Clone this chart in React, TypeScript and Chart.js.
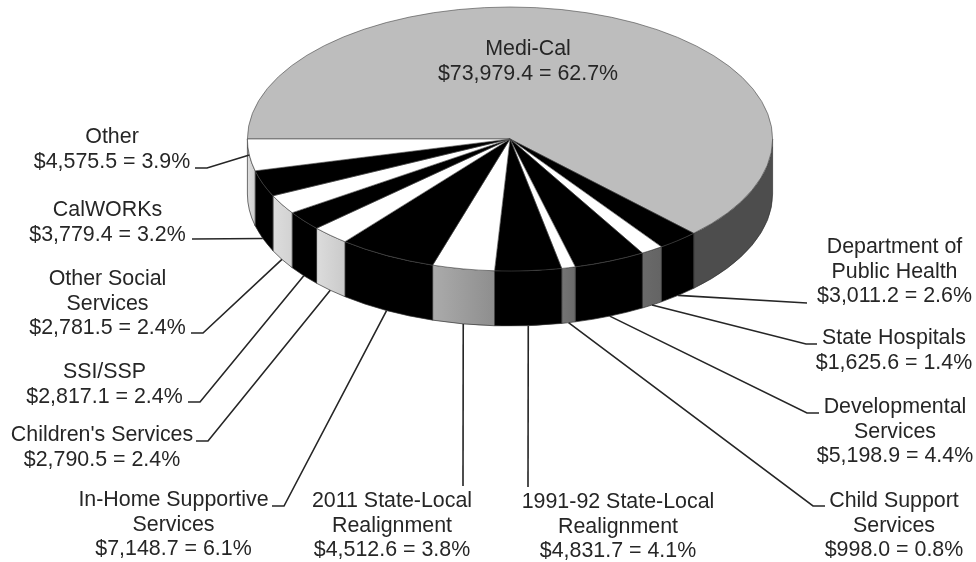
import React, { useEffect, useRef } from "react";
import { Chart, registerables } from "chart.js";

Chart.register(...registerables);

const categories = [
  "Medi-Cal", "Department of Public Health", "State Hospitals", "Developmental Services",
  "Child Support Services", "1991-92 State-Local Realignment", "2011 State-Local Realignment",
  "In-Home Supportive Services", "Children's Services", "SSI/SSP", "Other Social Services",
  "CalWORKs", "Other",
];
const amounts = [73979.4, 3011.2, 1625.6, 5198.9, 998.0, 4831.7, 4512.6, 7148.7, 2790.5, 2817.1, 2781.5, 3779.4, 4575.5];
const shares = [62.7, 2.6, 1.4, 4.4, 0.8, 4.1, 3.8, 6.1, 2.4, 2.4, 2.4, 3.2, 3.9];
const nameLines = [
  ["Medi-Cal"], ["Department of", "Public Health"], ["State Hospitals"], ["Developmental", "Services"],
  ["Child Support", "Services"], ["1991-92 State-Local", "Realignment"], ["2011 State-Local", "Realignment"],
  ["In-Home Supportive", "Services"], ["Children's Services"], ["SSI/SSP"], ["Other Social", "Services"],
  ["CalWORKs"], ["Other"],
];
const topColors = ["#bdbdbd", "#000000", "#ffffff", "#000000", "#ffffff", "#000000", "#ffffff", "#000000", "#ffffff", "#000000", "#ffffff", "#000000", "#ffffff"];
const sideFrom = ["#4d4d4d", "#000000", "#6a6a6a", "#000000", "#747474", "#000000", "#ababab", "#000000", "#dcdcdc", "#000000", "#dddddd", "#000000", "#dddddd"];
const sideTo = ["#4d4d4d", "#000000", "#646464", "#000000", "#6a6a6a", "#000000", "#8e8e8e", "#000000", "#cacaca", "#000000", "#d2d2d2", "#000000", "#cfcfcf"];

// Layout of the annotation text: centre x, first baseline
const labelX = [528, 894.5, 894, 895, 894, 618, 392, 173.5, 102, 104.5, 107.5, 107.5, 112];
const labelY = [55, 253, 344, 413, 507, 508, 507, 506, 441, 378, 285, 216, 143];
// Leader elbows: [elbow x, elbow y, end x, end y]
const leaders: (number[] | null)[] = [
  null,
  [807, 303, 807, 303],
  [806, 344, 817, 344],
  [807, 413, 819, 413],
  [813, 506, 825, 506],
  [528, 487, 528, 487],
  [463, 486, 463, 486],
  [284, 506, 272, 506],
  [208, 441, 196, 441],
  [200, 402, 188, 402],
  [203, 333, 191, 333],
  [192, 239, 192, 239],
  [207, 168, 195, 168],
];
const leaderOnTopFace = [false, false, false, false, false, false, false, false, false, false, false, false, true];

const CY = 139;
const RY = 132;
const DEPTH = 55;
const FONT = '21.4px "Liberation Sans", Arial, sans-serif';
const LINE = 24.5;

const money = (v: number) =>
  "$" + v.toLocaleString("en-US", { minimumFractionDigits: 1, maximumFractionDigits: 1 });

const pie3d = {
  id: "pie3d",
  beforeDatasetsDraw(chart: any) {
    const ctx = chart.ctx;
    const arcs = chart.getDatasetMeta(0).data;
    arcs.forEach((arc: any, i: number) => {
      const a0 = Math.max(arc.startAngle, 0);
      const a1 = Math.min(arc.endAngle, Math.PI);
      if (a1 <= a0) return;
      const rx = arc.outerRadius;
      const x0 = arc.x + rx * Math.cos(a0);
      const x1 = arc.x + rx * Math.cos(a1);
      const g = ctx.createLinearGradient(Math.min(x0, x1), 0, Math.max(x0, x1), 0);
      g.addColorStop(0, sideFrom[i]);
      g.addColorStop(1, sideTo[i]);
      ctx.save();
      ctx.beginPath();
      ctx.ellipse(arc.x, CY, rx, RY, 0, a0, a1, false);
      ctx.ellipse(arc.x, CY + DEPTH, rx, RY, 0, a1, a0, true);
      ctx.closePath();
      ctx.fillStyle = g;
      ctx.fill();
      ctx.lineWidth = 0.7;
      ctx.strokeStyle = "#333333";
      ctx.stroke();
      ctx.restore();
    });
    // Flatten the pie's top face onto the ellipse of the extruded rim
    const k = RY / arcs[0].outerRadius;
    ctx.save();
    ctx.translate(0, CY);
    ctx.scale(1, k);
    ctx.translate(0, -arcs[0].y);
  },
  afterDatasetsDraw(chart: any) {
    const ctx = chart.ctx;
    ctx.restore();
    const arcs = chart.getDatasetMeta(0).data;
    ctx.save();
    ctx.strokeStyle = "#262626";
    ctx.lineWidth = 1.6;
    ctx.fillStyle = "#262626";
    ctx.font = FONT;
    ctx.textAlign = "center";
    ctx.textBaseline = "alphabetic";
    arcs.forEach((arc: any, i: number) => {
      const lines = [...nameLines[i], `${money(amounts[i])} = ${shares[i]}%`];
      lines.forEach((t, j) => ctx.fillText(t, labelX[i], labelY[i] + j * LINE));
      const l = leaders[i];
      if (!l) return;
      const mid = (arc.startAngle + arc.endAngle) / 2;
      const sx = arc.x + arc.outerRadius * Math.cos(mid);
      const sy = CY + RY * Math.sin(mid) + (leaderOnTopFace[i] ? 0 : DEPTH);
      ctx.beginPath();
      ctx.moveTo(sx, sy);
      ctx.lineTo(l[0], l[1]);
      ctx.lineTo(l[2], l[3]);
      ctx.stroke();
    });
    ctx.restore();
  },
};

export default function App() {
  const ref = useRef<HTMLCanvasElement>(null);
  useEffect(() => {
    const chart = new Chart(ref.current!, {
      type: "pie",
      data: {
        labels: categories,
        datasets: [{
          data: amounts,
          backgroundColor: topColors,
          borderColor: "#444444",
          borderWidth: 0.8,
        }],
      },
      options: {
        responsive: false,
        animation: false,
        rotation: -90,
        layout: { padding: { left: 247, right: 203, top: 0, bottom: 36 } },
        plugins: { legend: { display: false }, tooltip: { enabled: false } },
      },
      plugins: [pie3d],
    } as any);
    return () => chart.destroy();
  }, []);
  return (
    <div style={{ position: "fixed", left: 0, top: 0, width: 976, height: 562, background: "#ffffff" }}>
      <canvas ref={ref} width={976} height={562} style={{ display: "block" }} />
    </div>
  );
}
